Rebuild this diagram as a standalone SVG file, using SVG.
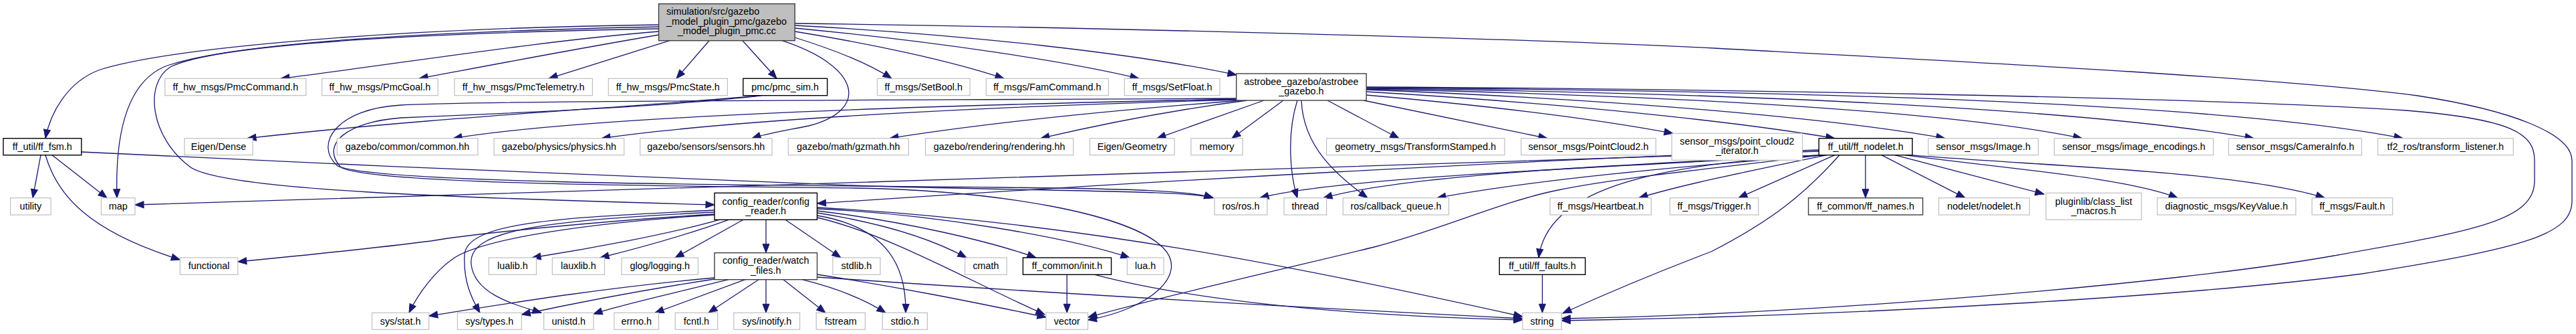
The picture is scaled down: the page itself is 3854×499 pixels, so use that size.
<svg xmlns="http://www.w3.org/2000/svg" width="3854" height="499" viewBox="0 0 3854 499">
<style>
.node rect{fill:#ffffff;stroke:#bfbfbf;stroke-width:1.2}
.doc rect{stroke:#000000;stroke-width:1.4}
.dim rect{stroke:#404040;stroke-width:1.4}
.root rect{fill:#bfbfbf;stroke:#404040;stroke-width:1.4}
text{font-family:"Liberation Sans",Arial,sans-serif;font-size:14.4px;fill:#000000;text-anchor:middle}
text.l{text-anchor:start}
#edges path{fill:none;stroke:#191970;stroke-width:1.3;marker-end:url(#ah)}
</style>
<defs>
<marker id="ah" markerWidth="14" markerHeight="12" refX="13" refY="5" orient="auto" markerUnits="userSpaceOnUse" overflow="visible">
<path d="M0,0 L13,5 L0,10 z" fill="#191970" stroke="#191970" stroke-width="1"/>
</marker>
</defs>
<rect x="0" y="0" width="3854" height="499" fill="#ffffff"/>
<g id="edges">
<path d="M986,47 C800,62 600,95 420,117.3"/>
<path d="M986,52 C850,75 720,100 627,117.3"/>
<path d="M1002,60.7 L821,117.3"/>
<path d="M1061,60.7 L1012,117.3"/>
<path d="M1111,60.7 L1162,117.3"/>
<path d="M1189,56 C1250,75 1300,95 1334,117.3"/>
<path d="M1189,47 C1300,65 1420,90 1502,117.3"/>
<path d="M1189,42 C1400,62 1600,92 1704,117.3"/>
<path d="M1189,38 C1450,52 1700,80 1850,112"/>
<path d="M1189,35 C1600,40 2300,58 2565,72 C2900,90 3400,115 3617,143 C3760,165 3848,200 3848,240 L3848,300 C3848,350 3780,370 3534,409 C3300,440 2800,472 2336.3,479"/>
<path d="M986,40 C700,46 350,60 245,100 C190,125 172,200 175,295.7"/>
<path d="M986,43 C700,48 330,62 255,100 C215,125 225,205 284,249 C330,285 700,296 1069,306"/>
<path d="M986,37 C600,42 260,70 150,104 C100,122 75,170 68,206.7"/>
<path d="M1170,60.7 C1290,100 1300,165 1210,188 C1170,196 1145,200 1125,206.7"/>
<path d="M1136,143 C950,160 650,175 370,206.7"/>
<path d="M1140,142.7 C1000,160 700,172 600,176 C520,182 478,215 510,250 C560,278 1100,278 1280,281 C1500,285 1690,320 1740,370 C1780,410 1720,462 1627.6,478"/>
<path d="M1852,148 C1500,155 900,170 678,206.7"/>
<path d="M1855,149 C1500,158 1100,178 900,206.7"/>
<path d="M1858,150 C1700,162 1500,180 1331,206.7"/>
<path d="M1866,150 C1750,165 1650,185 1557,206.7"/>
<path d="M1891,150 L1731,206.7"/>
<path d="M1920,150 L1843,206.7"/>
<path d="M1986,150 L2093,206.7"/>
<path d="M2040,150 L2315,206.7"/>
<path d="M2044,142 C2250,160 2400,180 2503,199.3"/>
<path d="M2044,137 C2350,155 2600,182 2745,206.7"/>
<path d="M2044,134 C2450,150 2750,178 2910,206.7"/>
<path d="M2044,133 C2600,145 2950,172 3115,206.7"/>
<path d="M2044,132 C2700,140 3150,168 3372,206.7"/>
<path d="M2044,131 C2800,136 3350,158 3595,206.7"/>
<path d="M1941,150 C1925,200 1930,260 1941,295.7"/>
<path d="M1947,150 C1950,220 2000,262 2046,295.7"/>
<path d="M1850,147 C1300,150 750,150 600,157 C505,162 468,215 505,248 C560,272 1000,276 1500,280 C1700,282 1780,285 1815,295.7"/>
<path d="M2044,130 C2500,132 3300,145 3600,165 C3760,178 3792,200 3792,240 L3792,270 C3792,330 3700,345 3492,382 C3250,425 2700,470 2336.3,476"/>
<path d="M61,231.7 L49,295.7"/>
<path d="M78,231.7 L160,295.7"/>
<path d="M68,231.7 C85,290 130,345 269.4,388"/>
<path d="M121.8,227 C500,245 1000,268 1300,278 C1600,286 1780,285 1815,295.7"/>
<path d="M2721.3,226 C2300,240 1600,262 1300,272 C900,282 500,300 202,306"/>
<path d="M2721.3,224 C2300,238 1700,272 1222.5,304"/>
<path d="M2724,231.7 C2400,250 2000,265 1885,295.7"/>
<path d="M2726,231.7 C2400,247 2100,262 1980,295.7"/>
<path d="M2729,231.7 C2500,250 2300,268 2150,295.7"/>
<path d="M2733,231.7 C2620,255 2520,275 2452,295.7"/>
<path d="M2745,231.7 L2601,295.7"/>
<path d="M2791,231.7 L2791,295.7"/>
<path d="M2815,231.7 L2940,295.7"/>
<path d="M2835,231.7 L3058,290"/>
<path d="M2850,231.7 C3000,252 3180,265 3258,295.7"/>
<path d="M2858,231.7 C3050,248 3350,255 3478,295.7"/>
<path d="M2732,231.7 C2450,245 2315,290 2302,385"/>
<path d="M2752,231.7 C2700,290 2650,330 2560,376 C2470,410 2400,440 2338,468"/>
<path d="M2725,231.7 C2600,248 2420,265 2331,284 C2250,300 2150,345 2056,369 C1950,395 1750,440 1628,474"/>
<path d="M1076,328.3 C1000,350 880,372 796,385"/>
<path d="M1090,328.3 C1030,350 950,372 898,385"/>
<path d="M1112,328.3 L1010,385"/>
<path d="M1146,328.3 L1146,377.7"/>
<path d="M1175,328.3 L1258,385"/>
<path d="M1222.5,318 C1330,335 1400,360 1446,385"/>
<path d="M1222.5,315 C1350,330 1480,360 1550,385"/>
<path d="M1222.5,312 C1400,320 1600,355 1690,385"/>
<path d="M1222.5,322 C1330,340 1356,400 1355,467.3"/>
<path d="M1222.5,325 C1330,350 1450,420 1563,470"/>
<path d="M1222.5,310 C1600,330 1950,400 2277.9,473"/>
<path d="M1069,321 C850,335 720,360 680,385 C650,405 625,440 612,467.3"/>
<path d="M1069,314 C850,325 700,330 695,380 C693,420 705,445 718,467.3"/>
<path d="M1069,317 C800,330 700,345 705,395 C710,440 770,455 810,467.3"/>
<path d="M1069,320 C900,330 700,350 645,360 C550,372 450,382 355.8,391"/>
<path d="M1069,415 C900,430 750,455 641.7,472"/>
<path d="M1069,417 C950,435 850,455 780.3,470"/>
<path d="M1090,417.7 C1000,440 930,455 888,469"/>
<path d="M1115,417.7 L980,467.3"/>
<path d="M1135,417.7 L1060,467.3"/>
<path d="M1146,417.7 L1146,467.3"/>
<path d="M1172,417.7 L1235,467.3"/>
<path d="M1200,417.7 C1250,430 1290,445 1325,467.3"/>
<path d="M1222.5,410 C1350,430 1450,450 1565,474"/>
<path d="M1222.5,414 C1600,440 2000,462 2277.9,476"/>
<path d="M1596.3,410.3 L1596.3,467.3"/>
<path d="M1638,410.3 C1750,440 1950,470 2277.9,478"/>
<path d="M2307.5,410.3 L2307.5,467.3"/>
</g>
<g id="n_root" class="node root"><rect x="985.5" y="5.7" width="203.7" height="55"/><text class="l" x="997" y="22">simulation/src/gazebo</text><text class="l" x="997" y="36.5">_model_plugin_pmc/gazebo</text><text x="1087.4" y="51">_model_plugin_pmc.cc</text></g>
<g id="n_pmccommand" class="node"><rect x="246.8" y="117.3" width="211" height="25.4"/><text x="352.3" y="134.5">ff_hw_msgs/PmcCommand.h</text></g>
<g id="n_pmcgoal" class="node"><rect x="481.7" y="117.3" width="173.5" height="25.4"/><text x="568.4" y="134.5">ff_hw_msgs/PmcGoal.h</text></g>
<g id="n_pmctelemetry" class="node"><rect x="679.9" y="117.3" width="206.5" height="25.4"/><text x="783.1" y="134.5">ff_hw_msgs/PmcTelemetry.h</text></g>
<g id="n_pmcstate" class="node"><rect x="910.3" y="117.3" width="178.1" height="25.4"/><text x="999.3" y="134.5">ff_hw_msgs/PmcState.h</text></g>
<g id="n_pmcsim" class="node doc"><rect x="1111.8" y="117.3" width="125.9" height="25.4"/><text x="1174.7" y="134.5">pmc/pmc_sim.h</text></g>
<g id="n_setbool" class="node"><rect x="1312.5" y="117.3" width="138.6" height="25.4"/><text x="1381.8" y="134.5">ff_msgs/SetBool.h</text></g>
<g id="n_famcommand" class="node"><rect x="1475.4" y="117.3" width="183" height="25.4"/><text x="1566.9" y="134.5">ff_msgs/FamCommand.h</text></g>
<g id="n_setfloat" class="node"><rect x="1682.3" y="117.3" width="142.7" height="25.4"/><text x="1753.6" y="134.5">ff_msgs/SetFloat.h</text></g>
<g id="n_astrobee" class="node dim"><rect x="1849.7" y="110" width="194.5" height="40"/><text x="1946.9" y="127">astrobee_gazebo/astrobee</text><text x="1946.9" y="141">_gazebo.h</text></g>
<g id="n_fffsm" class="node doc"><rect x="4.9" y="206.7" width="116.9" height="25"/><text x="63.3" y="224">ff_util/ff_fsm.h</text></g>
<g id="n_eigendense" class="node"><rect x="276" y="206.7" width="102" height="25"/><text x="327" y="224">Eigen/Dense</text></g>
<g id="n_common" class="node"><rect x="504.3" y="206.7" width="210.6" height="25"/><text x="609.6" y="224">gazebo/common/common.hh</text></g>
<g id="n_physics" class="node"><rect x="739.1" y="206.7" width="194.6" height="25"/><text x="836.4" y="224">gazebo/physics/physics.hh</text></g>
<g id="n_sensors" class="node"><rect x="957.6" y="206.7" width="197.4" height="25"/><text x="1056.3" y="224">gazebo/sensors/sensors.hh</text></g>
<g id="n_gzmath" class="node"><rect x="1179.3" y="206.7" width="180.1" height="25"/><text x="1269.3" y="224">gazebo/math/gzmath.hh</text></g>
<g id="n_rendering" class="node"><rect x="1384.5" y="206.7" width="221.3" height="25"/><text x="1495.1" y="224">gazebo/rendering/rendering.hh</text></g>
<g id="n_eigengeom" class="node"><rect x="1630.5" y="206.7" width="126.7" height="25"/><text x="1693.8" y="224">Eigen/Geometry</text></g>
<g id="n_memory" class="node"><rect x="1781.9" y="206.7" width="77.3" height="25"/><text x="1820.5" y="224">memory</text></g>
<g id="n_tfstamped" class="node"><rect x="1984.6" y="206.7" width="266.5" height="25"/><text x="2117.8" y="224">geometry_msgs/TransformStamped.h</text></g>
<g id="n_pointcloud2" class="node"><rect x="2275.8" y="206.7" width="201.6" height="25"/><text x="2376.6" y="224">sensor_msgs/PointCloud2.h</text></g>
<g id="n_pc2iter" class="node"><rect x="2501.2" y="199.3" width="195.4" height="40"/><text x="2598.9" y="216">sensor_msgs/point_cloud2</text><text x="2598.9" y="230">_iterator.h</text></g>
<g id="n_ffnodelet" class="node doc"><rect x="2721.3" y="206.7" width="139.8" height="25"/><text x="2791.2" y="224">ff_util/ff_nodelet.h</text></g>
<g id="n_image" class="node"><rect x="2885" y="206.7" width="164.5" height="25"/><text x="2967.2" y="224">sensor_msgs/Image.h</text></g>
<g id="n_imgenc" class="node"><rect x="3073.4" y="206.7" width="238" height="25"/><text x="3192.4" y="224">sensor_msgs/image_encodings.h</text></g>
<g id="n_camerainfo" class="node"><rect x="3334.3" y="206.7" width="199" height="25"/><text x="3433.8" y="224">sensor_msgs/CameraInfo.h</text></g>
<g id="n_tflistener" class="node"><rect x="3557.5" y="206.7" width="202.7" height="25"/><text x="3658.8" y="224">tf2_ros/transform_listener.h</text></g>
<g id="n_utility" class="node"><rect x="15.6" y="295.7" width="60.5" height="25.3"/><text x="45.8" y="313">utility</text></g>
<g id="n_map" class="node"><rect x="151.4" y="295.7" width="50.6" height="25.3"/><text x="176.7" y="313">map</text></g>
<g id="n_configreader" class="node doc"><rect x="1069" y="288.3" width="153.5" height="40"/><text x="1145.7" y="305.5">config_reader/config</text><text x="1145.7" y="319.5">_reader.h</text></g>
<g id="n_rosros" class="node"><rect x="1817.2" y="295.7" width="78.6" height="25.3"/><text x="1856.5" y="313">ros/ros.h</text></g>
<g id="n_thread" class="node"><rect x="1921" y="295.7" width="63.6" height="25.3"/><text x="1952.8" y="313">thread</text></g>
<g id="n_cbqueue" class="node"><rect x="2009.3" y="295.7" width="158.3" height="25.3"/><text x="2088.4" y="313">ros/callback_queue.h</text></g>
<g id="n_heartbeat" class="node"><rect x="2319" y="295.7" width="151.4" height="25.3"/><text x="2394.7" y="313">ff_msgs/Heartbeat.h</text></g>
<g id="n_trigger" class="node"><rect x="2498.4" y="295.7" width="132.4" height="25.3"/><text x="2564.6" y="313">ff_msgs/Trigger.h</text></g>
<g id="n_ffnames" class="node dim"><rect x="2705.6" y="295.7" width="171.1" height="25.3"/><text x="2791.1" y="313">ff_common/ff_names.h</text></g>
<g id="n_nodelet" class="node"><rect x="2900.6" y="295.7" width="135.7" height="25.3"/><text x="2968.4" y="313">nodelet/nodelet.h</text></g>
<g id="n_pluginlib" class="node"><rect x="3061" y="288.3" width="142.8" height="40"/><text x="3132.4" y="305.5">pluginlib/class_list</text><text x="3132.4" y="319.5">_macros.h</text></g>
<g id="n_keyvalue" class="node"><rect x="3227.5" y="295.7" width="207.3" height="25.3"/><text x="3331.1" y="313">diagnostic_msgs/KeyValue.h</text></g>
<g id="n_fault" class="node"><rect x="3459" y="295.7" width="120.6" height="25.3"/><text x="3519.3" y="313">ff_msgs/Fault.h</text></g>
<g id="n_functional" class="node"><rect x="269.4" y="385" width="86.4" height="25.3"/><text x="312.6" y="402">functional</text></g>
<g id="n_lualib" class="node"><rect x="731.3" y="385" width="71.2" height="25.3"/><text x="766.9" y="402">lualib.h</text></g>
<g id="n_lauxlib" class="node"><rect x="826.3" y="385" width="78.2" height="25.3"/><text x="865.4" y="402">lauxlib.h</text></g>
<g id="n_glog" class="node"><rect x="930" y="385" width="114.4" height="25.3"/><text x="987.2" y="402">glog/logging.h</text></g>
<g id="n_watchfiles" class="node dim"><rect x="1069" y="377.7" width="153.5" height="40"/><text x="1145.7" y="394">config_reader/watch</text><text x="1145.7" y="408.5">_files.h</text></g>
<g id="n_stdlib" class="node"><rect x="1245.9" y="385" width="71.1" height="25.3"/><text x="1281.4" y="402">stdlib.h</text></g>
<g id="n_cmath" class="node"><rect x="1443.7" y="385" width="62.5" height="25.3"/><text x="1475" y="402">cmath</text></g>
<g id="n_init" class="node doc"><rect x="1530.5" y="385" width="132.1" height="25.3"/><text x="1596.5" y="402">ff_common/init.h</text></g>
<g id="n_lua" class="node"><rect x="1686.4" y="385" width="54.7" height="25.3"/><text x="1713.7" y="402">lua.h</text></g>
<g id="n_fffaults" class="node doc"><rect x="2243.3" y="385" width="128.4" height="25.3"/><text x="2307.5" y="402">ff_util/ff_faults.h</text></g>
<g id="n_sysstat" class="node"><rect x="556.6" y="467.3" width="85.1" height="25"/><text x="599.1" y="484.5">sys/stat.h</text></g>
<g id="n_systypes" class="node"><rect x="684.4" y="467.3" width="95.9" height="25"/><text x="732.3" y="484.5">sys/types.h</text></g>
<g id="n_unistd" class="node"><rect x="813.6" y="467.3" width="74.4" height="25"/><text x="850.8" y="484.5">unistd.h</text></g>
<g id="n_errno" class="node"><rect x="918.9" y="467.3" width="66.6" height="25"/><text x="952.2" y="484.5">errno.h</text></g>
<g id="n_fcntl" class="node"><rect x="1010.2" y="467.3" width="63.4" height="25"/><text x="1041.9" y="484.5">fcntl.h</text></g>
<g id="n_inotify" class="node"><rect x="1097.8" y="467.3" width="98.8" height="25"/><text x="1147.2" y="484.5">sys/inotify.h</text></g>
<g id="n_fstream" class="node"><rect x="1221.2" y="467.3" width="73.2" height="25"/><text x="1257.8" y="484.5">fstream</text></g>
<g id="n_stdio" class="node"><rect x="1320.3" y="467.3" width="67.1" height="25"/><text x="1353.8" y="484.5">stdio.h</text></g>
<g id="n_vector" class="node"><rect x="1565" y="467.3" width="62.6" height="25"/><text x="1596.3" y="484.5">vector</text></g>
<g id="n_string" class="node"><rect x="2277.9" y="467.3" width="58.4" height="25"/><text x="2307.1" y="484.5">string</text></g>
</svg>
